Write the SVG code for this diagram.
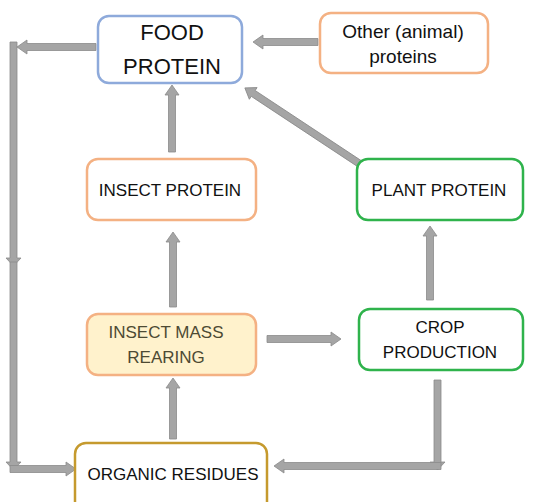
<svg xmlns="http://www.w3.org/2000/svg" width="533" height="502" viewBox="0 0 533 502">
<style>
.box{fill:#ffffff;stroke-width:2.5}
.blue{stroke:#8eaadb}
.orange{stroke:#f4b183}
.green{stroke:#2fb34c}
.gold{stroke:#c59a2e}
.t{font-family:"Liberation Sans",Arial,sans-serif;font-size:17px;fill:#111111;text-anchor:middle}
.arr{fill:#a5a5a5;stroke:#8a8a8a;stroke-width:0.8;stroke-linejoin:miter}
</style>
<rect width="533" height="502" fill="#ffffff"/>
<g id="connectors">
<polygon class="arr" points="318,38.5 263,38.5 263,35 253,42 263,49 263,45.5 318,45.5"/>
<polygon class="arr" points="96,43.5 27,43.5 27,40 17,47 27,54 27,50.5 96,50.5"/>
<polygon class="arr" points="10,42 17,42 17,258 21,258 13.5,266 6,258 10,258"/>
<polygon class="arr" points="10,262 17,262 17,462 21,462 13.5,470 6,462 10,462"/>
<polygon class="arr" points="10,465.5 66,465.5 66,462 76,469 66,476 66,472.5 10,472.5"/>
<polygon class="arr" points="168.5,152 168.5,95 165,95 172,85 179,95 175.5,95 175.5,152"/>
<polygon class="arr" transform="translate(360,164) rotate(-146.54)" points="0,-3.5 128,-3.5 128,-7 138,0 128,7 128,3.5 0,3.5"/>
<polygon class="arr" points="169.5,307 169.5,242 166,242 173,232 180,242 176.5,242 176.5,307"/>
<polygon class="arr" points="169.5,439 169.5,388 166,388 173,378 180,388 176.5,388 176.5,439"/>
<polygon class="arr" points="426.5,300 426.5,236 423,236 430,226 437,236 433.5,236 433.5,300"/>
<polygon class="arr" points="267,335.5 331,335.5 331,332 341,339 331,346 331,342.5 267,342.5"/>
<polygon class="arr" points="434,380 441,380 441,462 445,462 437.5,470 430,462 434,462"/>
<polygon class="arr" points="441,462.5 284,462.5 284,459 274,466 284,473 284,469.5 441,469.5"/>
</g>
<g id="food-protein">
<rect class="box blue" x="98" y="16" width="144" height="67" rx="11"/>
<text class="t" x="172" y="40" style="font-size:22px">FOOD</text>
<text class="t" x="172" y="74" style="font-size:22px">PROTEIN</text>
</g>
<g id="other-proteins">
<rect class="box orange" x="320" y="13" width="168" height="60" rx="11"/>
<text class="t" x="403" y="38" style="font-size:19px">Other (animal)</text>
<text class="t" x="403" y="63" style="font-size:19px">proteins</text>
</g>
<g id="insect-protein">
<rect class="box orange" x="87" y="159" width="169" height="61" rx="11"/>
<text class="t" x="170" y="196">INSECT PROTEIN</text>
</g>
<g id="plant-protein">
<rect class="box green" x="357" y="159" width="166" height="61" rx="11"/>
<text class="t" x="439" y="196">PLANT PROTEIN</text>
</g>
<g id="insect-mass-rearing">
<rect class="box orange" x="87" y="314" width="169" height="61" rx="11" style="fill:#fff2cc"/>
<text class="t" x="166" y="338" style="fill:#4d4a33">INSECT MASS</text>
<text class="t" x="166" y="363" style="fill:#4d4a33">REARING</text>
</g>
<g id="crop-production">
<rect class="box green" x="359" y="309" width="164" height="61" rx="11"/>
<text class="t" x="440" y="333">CROP</text>
<text class="t" x="440" y="358">PRODUCTION</text>
</g>
<g id="organic-residues">
<rect class="box gold" x="75" y="443" width="192" height="72" rx="11"/>
<text class="t" x="173" y="480">ORGANIC RESIDUES</text>
</g>
</svg>
